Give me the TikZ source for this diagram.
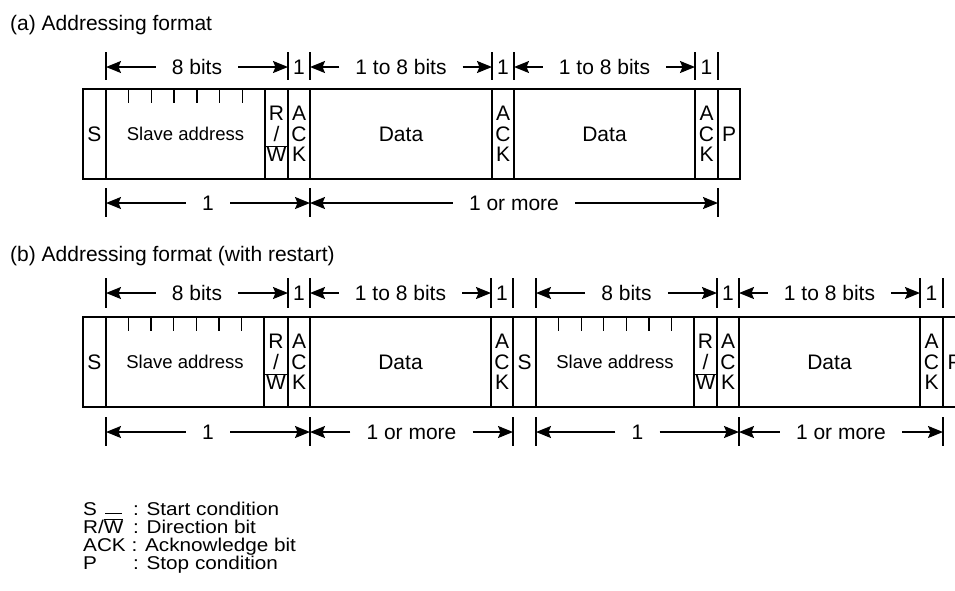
\documentclass[tikz,border=0pt]{standalone}
\usepackage{fontspec}
\setmainfont{Liberation Sans}
\newfontfamily\legfont[FakeStretch=1.12]{Liberation Sans}
\usetikzlibrary{arrows.meta}
\newcommand\cellnode[6][]{%
  \pgfmathsetmacro\cw{#4-#3}\pgfmathsetmacro\cx{(#3+#4)/2}%
  \node[cellbox,#1,minimum width=\cw pt] (#2) at (\cx,#5) {#6};}
\newcommand\dimspan[5]{%
  \pgfmathsetmacro\dx{(#2+#3)/2}%
  \coordinate (#1l) at (#2,#4);
  \coordinate (#1r) at (#3,#4);
  \node[dimlab] (#1) at (\dx,#4) {#5};
  \draw[dimarrow] (#1.west) -- (#1l);
  \draw[dimarrow] (#1.east) -- (#1r);}
\newcommand\addrticks[4]{% x1 x2 ytop name
  \foreach \k in {1,...,6}{\pgfmathsetmacro\tx{#1+\k*(#2-#1)/7}\draw[addrtick] (\tx,#3) -- (\tx,#3+14);}}
\begin{document}
\begin{tikzpicture}[x=1pt,y=-1pt,
  cellbox/.style={draw, line width=1.7pt, minimum height=90pt, inner sep=0pt, outer sep=0pt,
    font=\fontsize{21}{20.5}\selectfont, align=center},
  thickbox/.style={line width=2.8pt},
  dimlab/.style={inner xsep=16pt, inner ysep=0pt, font=\fontsize{21}{24}\selectfont},
  onelab/.style={inner sep=0pt, font=\fontsize{21}{24}\selectfont},
  dimarrow/.style={line width=1.6pt, -{Stealth[length=15pt,width=12pt,inset=2.5pt]}},
  tickline/.style={line width=1.3pt},
  addrtick/.style={line width=1.3pt},
  ovl/.style={line width=1pt},
  title/.style={anchor=base west, font=\fontsize{21}{24}\selectfont, inner sep=0pt},
  legend/.style={anchor=base west, font=\legfont\fontsize{18.5}{20}\selectfont, inner sep=0pt}]
\clip (0,0) rectangle (955,590);
\useasboundingbox (0,0) rectangle (955,590);

% titles
\node[title] (ta) at (10,30) {(a) Addressing format};
\node[title] (tb) at (10,261) {(b) Addressing format (with restart)};

% ---------- (a) ----------
\cellnode{aS}{83}{106}{134}{S}
\cellnode{aAddr}{106}{265}{134}{\fontsize{18.5}{20}\selectfont Slave address}
\cellnode{aRW}{265}{288}{134}{R\\/\\W}
\cellnode{aK1}{288}{310}{134}{A\\C\\K}
\cellnode{aD1}{310}{492}{134}{Data}
\cellnode{aK2}{492}{514}{134}{A\\C\\K}
\cellnode{aD2}{514}{695}{134}{Data}
\cellnode{aK3}{695}{718}{134}{A\\C\\K}
\cellnode{aP}{718}{740}{134}{P}
\draw[ovl] ([yshift=-12pt]aRW.west) -- ([yshift=-12pt]aRW.east);
\addrticks{106}{265}{89}{a}

\foreach \x in {106,288,310,492,514,695,718}{\draw[tickline] (\x,52) -- (\x,80);}
\dimspan{aT1}{106}{288}{67}{8 bits}
\node[onelab] (aO1) at (299,67) {1};
\dimspan{aT2}{310}{492}{67}{1 to 8 bits}
\node[onelab] (aO2) at (503,67) {1};
\dimspan{aT3}{514}{695}{67}{1 to 8 bits}
\node[onelab] (aO3) at (706.5,67) {1};

\foreach \x in {106,310,718}{\draw[tickline] (\x,188) -- (\x,217);}
\dimspan{aB1}{106}{310}{203}{1}
\dimspan{aB2}{310}{718}{203}{1 or more}

% ---------- (b) ----------
\cellnode{bS1}{83}{106}{362}{S}
\cellnode{bAddr1}{106}{264}{362}{\fontsize{18.5}{20}\selectfont Slave address}
\cellnode[thickbox]{bRW1}{264}{288}{362}{R\\/\\W}
\cellnode{bK1}{288}{310}{362}{A\\C\\K}
\cellnode{bD1}{310}{491}{362}{Data}
\cellnode{bK2}{491}{513}{362}{A\\C\\K}
\cellnode{bS2}{513}{536}{362}{S}
\cellnode{bAddr2}{536}{694}{362}{\fontsize{18.5}{20}\selectfont Slave address}
\cellnode[thickbox]{bRW2}{694}{717}{362}{R\\/\\W}
\cellnode{bK3}{717}{739}{362}{A\\C\\K}
\cellnode{bD2}{739}{920}{362}{Data}
\cellnode{bK4}{920}{943}{362}{A\\C\\K}
\cellnode{bP}{943}{966}{362}{P}
\draw[ovl] ([yshift=-12pt]bRW1.west) -- ([yshift=-12pt]bRW1.east);
\draw[ovl] ([yshift=-12pt]bRW2.west) -- ([yshift=-12pt]bRW2.east);
\addrticks{106}{264}{317}{b1}
\addrticks{536}{694}{317}{b2}

\foreach \x in {106,288,310,491,513,536,717,739,920,943}{\draw[tickline] (\x,278) -- (\x,308);}
\dimspan{bT1}{106}{288}{293}{8 bits}
\node[onelab] (bO1) at (299,293) {1};
\dimspan{bT2}{310}{491}{293}{1 to 8 bits}
\node[onelab] (bO2) at (502,293) {1};
\dimspan{bT3}{536}{717}{293}{8 bits}
\node[onelab] (bO3) at (728,293) {1};
\dimspan{bT4}{739}{920}{293}{1 to 8 bits}
\node[onelab] (bO4) at (931.5,293) {1};

\foreach \x in {106,310,513,536,739,943}{\draw[tickline] (\x,417) -- (\x,446);}
\dimspan{bB1}{106}{310}{432}{1}
\dimspan{bB2}{310}{513}{432}{1 or more}
\dimspan{bB3}{536}{739}{432}{1}
\dimspan{bB4}{739}{943}{432}{1 or more}

% ---------- legend ----------
\node[legend] (lS) at (83,515.5) {S};
\node[legend] (lSd) at (133,515.5) {: Start condition};
\draw[ovl] (105,513) -- (122,513);
\node[legend] (lRW) at (83,533.5) {R/$\overline{\mbox{W}}$};
\node[legend] (lRWd) at (133,533.5) {: Direction bit};
\node[legend] (lA) at (83,551.5) {ACK};
\node[legend] (lAd) at (131.5,551.5) {: Acknowledge bit};
\node[legend] (lP) at (83,569.5) {P};
\node[legend] (lPd) at (133,569.5) {: Stop condition};
\end{tikzpicture}
\end{document}
